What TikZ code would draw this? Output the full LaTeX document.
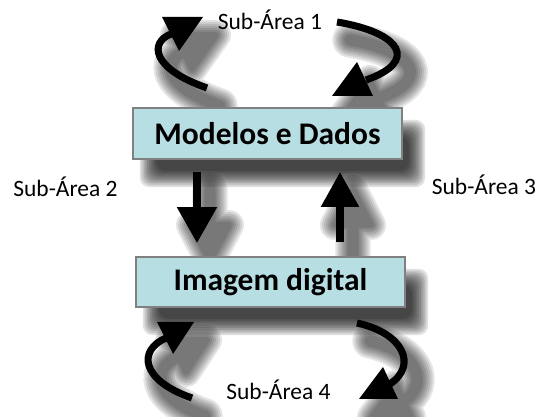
\documentclass[tikz,border=0pt]{standalone}
\usepackage{fontspec}
\setmainfont{Carlito}
\usetikzlibrary{arrows.meta,calc}
\begin{document}
\begin{tikzpicture}[x=0.75pt,y=-0.75pt,
  boxst/.style={draw=black!50, line width=1.2pt, fill={rgb,255:red,183;green,222;blue,227}, inner sep=0pt, font=\bfseries\fontsize{23.6}{28}\selectfont},
  lbl/.style={font=\fontsize{17.6}{21}\selectfont, anchor=base, inner sep=0pt},
  curv/.style={line width=5.3pt},
  shd/.style={shift={(13,18)}}
]
\useasboundingbox (0,0) rectangle (540,417);

% ---------- shadows ----------
\foreach \k in {0,...,9}{
  \pgfmathsetmacro{\d}{(\k-4.5)*1.8}
  \fill[black, opacity=0.12, rounded corners=7pt]
    ($(133,108)+(15,20)+(\d,\d)$) rectangle ($(402,159)+(15,20)-(\d,\d)$);
  \fill[black, opacity=0.12, rounded corners=7pt]
    ($(136,257)+(15,20)+(\d,\d)$) rectangle ($(405,307)+(15,20)-(\d,\d)$);
}
\foreach \w in {30,26,22,18,14,10,6}{
  \begin{scope}[shd, transparency group, opacity=0.1]
    \draw[line width=\w*0.75pt, line join=round, line cap=round, fill]
      (162,17) -- (203,17) -- (179,51) -- cycle
      (373,96) -- (332,96) -- (357,62) -- cycle
      (157,322) -- (194,322) -- (173,354) -- cycle
      (398,399) -- (359,399) -- (383,367) -- cycle
      (178,207) -- (216,207) -- (197,243) -- cycle
      (322,207) -- (358,207) -- (340,172) -- cycle;
    \draw[line width=\w*0.75pt+4pt, line cap=round]
      (207,88) .. controls (150,68) and (150,42) .. (171,34)
      (337,22) .. controls (403,33) and (418,62) .. (366,80)
      (192,398) .. controls (140,380) and (138,350) .. (166,338)
      (357,323) .. controls (403,333) and (418,365) .. (390,384)
      (197,172) -- (197,207)
      (340,242) -- (340,207);
  \end{scope}
}

% ---------- boxes ----------
\node[boxst, minimum width=269*0.75pt, minimum height=51*0.75pt] (m) at (267.5,133.5) {Modelos e Dados};
\node[boxst, minimum width=269*0.75pt, minimum height=50*0.75pt] (i) at (270.5,282) {Imagem digital};

% ---------- labels ----------
\node[lbl] (s1) at (270,30) {Sub-Área 1};
\node[lbl] (s2) at (65.5,197) {Sub-Área 2};
\node[lbl] (s3) at (484,195) {Sub-Área 3};
\node[lbl] (s4) at (278.5,400) {Sub-Área 4};

% ---------- straight arrows ----------
\coordinate (dn) at (197,0);
\coordinate (up) at (340,0);
\draw[line width=6pt, -{Triangle[length=36*0.75pt, width=38*0.75pt]}, shorten <=12*0.75pt, shorten >=13*0.75pt]
  (m.south -| dn) -- (i.north -| dn);
\draw[line width=6pt, -{Triangle[length=35*0.75pt, width=36*0.75pt]}, shorten <=14*0.75pt, shorten >=12*0.75pt]
  (i.north -| up) -- (m.south -| up);

% ---------- curved arrows ----------
\coordinate (a1) at (207,88); \coordinate (b1) at (171,34);
\draw[curv] (a1) .. controls (150,68) and (150,42) .. (b1);
\fill (162,17) -- (203,17) -- (179,51) -- cycle;

\coordinate (a2) at (337,22); \coordinate (b2) at (366,80);
\draw[curv] (a2) .. controls (403,33) and (418,62) .. (b2);
\fill (373,96) -- (332,96) -- (357,62) -- cycle;

\coordinate (a3) at (192,398); \coordinate (b3) at (166,338);
\draw[curv] (a3) .. controls (140,380) and (138,350) .. (b3);
\fill (157,322) -- (194,322) -- (173,354) -- cycle;

\coordinate (a4) at (357,323); \coordinate (b4) at (390,384);
\draw[curv] (a4) .. controls (403,333) and (418,365) .. (b4);
\fill (398,399) -- (359,399) -- (383,367) -- cycle;
\end{tikzpicture}
\end{document}
